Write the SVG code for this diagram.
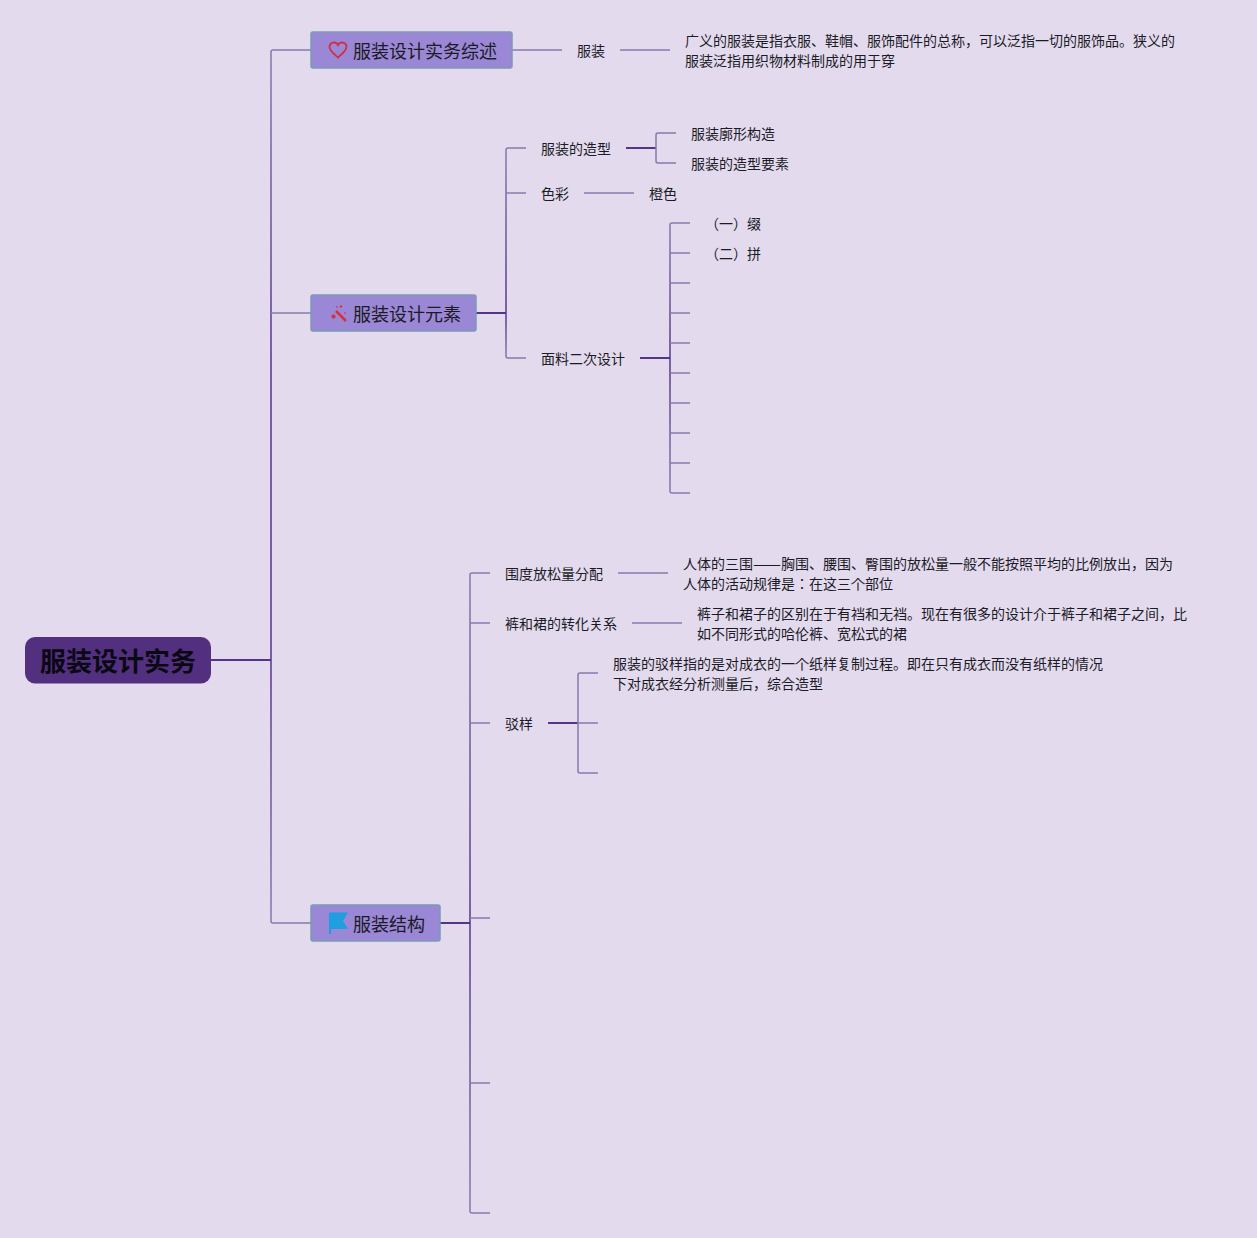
<svg xmlns="http://www.w3.org/2000/svg" width="1257" height="1238" viewBox="0 0 1257 1238">
<style>
text{font-family:"Noto Sans CJK JP","Noto Sans",sans-serif;fill:#1b1b26}
.s{font-size:14px}
.t{font-size:18px}
.r{font-size:26px;font-weight:700;fill:#0a0812}
.box{fill:#9a87d5;stroke:#7a9ab5;stroke-width:1.5}
.c{fill:none;stroke:#8a78ad;stroke-width:1.5}
.d{fill:none;stroke:#55358a;stroke-width:2}
</style>
<defs>
<linearGradient id="g1" gradientUnits="userSpaceOnUse" x1="0" y1="50" x2="0" y2="923"><stop offset="0" stop-color="#8a78ad"/><stop offset=".35" stop-color="#55358a"/><stop offset=".7" stop-color="#55358a"/><stop offset="1" stop-color="#8a78ad"/></linearGradient>
<linearGradient id="g2" gradientUnits="userSpaceOnUse" x1="0" y1="148" x2="0" y2="358"><stop offset="0" stop-color="#8a78ad"/><stop offset=".78" stop-color="#55358a"/><stop offset="1" stop-color="#8a78ad"/></linearGradient>
<linearGradient id="g3" gradientUnits="userSpaceOnUse" x1="0" y1="223" x2="0" y2="493"><stop offset="0" stop-color="#8a78ad"/><stop offset=".5" stop-color="#55358a"/><stop offset="1" stop-color="#8a78ad"/></linearGradient>
<linearGradient id="g4" gradientUnits="userSpaceOnUse" x1="0" y1="573" x2="0" y2="1213"><stop offset="0" stop-color="#8a78ad"/><stop offset=".55" stop-color="#55358a"/><stop offset="1" stop-color="#8a78ad"/></linearGradient>
</defs>
<rect width="1257" height="1238" fill="#e3daee"/>
<g id="connectors">
<path class="d" d="M211 660H271"/>
<path class="c" style="stroke:url(#g1)" d="M311 50H273Q271 50 271 52V921Q271 923 273 923H311"/>
<path class="c" d="M271 313H311"/>
<path class="c" d="M512 50H562M620 50H670"/>
<path class="d" d="M476 313H506"/>
<path class="c" style="stroke:url(#g2)" d="M526 148H508Q506 148 506 150V356Q506 358 508 358H526"/>
<path class="c" d="M506 193H526"/>
<path class="d" d="M626 148H656"/>
<path class="c" d="M676 133H658Q656 133 656 135V161Q656 163 658 163H676"/>
<path class="c" d="M584 193H634"/>
<path class="d" d="M640 358H670"/>
<path class="c" style="stroke:url(#g3)" d="M690 223H672Q670 223 670 225V491Q670 493 672 493H690"/>
<path class="c" d="M670 253H690M670 283H690M670 313H690M670 343H690M670 373H690M670 403H690M670 433H690M670 463H690"/>
<path class="d" d="M440 923H470"/>
<path class="c" style="stroke:url(#g4)" d="M490 573H472Q470 573 470 575V1211Q470 1213 472 1213H490"/>
<path class="c" d="M470 623H490M470 723H490M470 918H490M470 1083H490"/>
<path class="c" d="M618 573H668M632 623H682"/>
<path class="d" d="M548 723H578"/>
<path class="c" d="M598 673H580Q578 673 578 675V771Q578 773 580 773H598M578 723H598"/>
</g>
<g id="root"><rect x="25" y="637" width="186" height="46.500" rx="10" fill="#52307f"/><text class="r" x="40" y="671">服装设计实务</text></g>
<g id="topic1"><rect class="box" x="311" y="32" width="201" height="36" rx="2"/>
<path d="M338 57.500C333 53 329.500 50.500 329.500 47A4.500 4.500 0 0 1 338 45A4.500 4.500 0 0 1 346.500 47C346.500 50.500 343 53 338 57.500Z" fill="none" stroke="#d03040" stroke-width="1.800"/>
<text class="t" x="353" y="58">服装设计实务综述</text></g>
<g id="topic2"><rect class="box" x="311" y="295" width="165" height="36" rx="2"/>
<path d="M336 311L346 321" stroke="#d6303c" stroke-width="2.500" fill="none"/><path d="M331 316l3 -2 2 3 -3 2zM341 305l1.500 1.500 -1.500 1.500 -1.500 -1.500zM345 312l1 1 -1 1 -1 -1zM337 306l1 1 -1 1 -1 -1z" fill="#d6303c"/>
<text class="t" x="353" y="321">服装设计元素</text></g>
<g id="topic3"><rect class="box" x="311" y="905" width="129" height="36" rx="2"/>
<path d="M329 912.500H348L343 921L348 929H331V934H329Z" fill="#1d9fe0"/>
<text class="t" x="353" y="931">服装结构</text></g>
<g id="n1"><text class="s" x="577" y="56">服装</text></g>
<g id="n2"><text class="s" x="685" y="46">广义的服装是指衣服、鞋帽、服饰配件的总称，可以泛指一切的服饰品。狭义的</text><text class="s" x="685" y="66">服装泛指用织物材料制成的用于穿</text></g>
<g id="n3"><text class="s" x="541" y="154">服装的造型</text></g>
<g id="n4"><text class="s" x="691" y="139">服装廓形构造</text></g>
<g id="n5"><text class="s" x="691" y="169">服装的造型要素</text></g>
<g id="n6"><text class="s" x="541" y="199">色彩</text></g>
<g id="n7"><text class="s" x="649" y="199">橙色</text></g>
<g id="n8"><text class="s" x="705" y="229">（一）缀</text></g>
<g id="n9"><text class="s" x="705" y="259">（二）拼</text></g>
<g id="n10"><text class="s" x="541" y="364">面料二次设计</text></g>
<g id="n11"><text class="s" x="505" y="579">围度放松量分配</text></g>
<g id="n12"><text class="s" x="683" y="569">人体的三围<tspan textLength="28" lengthAdjust="spacingAndGlyphs">——</tspan>胸围、腰围、臀围的放松量一般不能按照平均的比例放出，因为</text><text class="s" x="683" y="589">人体的活动规律是：在这三个部位</text></g>
<g id="n13"><text class="s" x="505" y="629">裤和裙的转化关系</text></g>
<g id="n14"><text class="s" x="697" y="619">裤子和裙子的区别在于有裆和无裆。现在有很多的设计介于裤子和裙子之间，比</text><text class="s" x="697" y="639">如不同形式的哈伦裤、宽松式的裙</text></g>
<g id="n15"><text class="s" x="505" y="729">驳样</text></g>
<g id="n16"><text class="s" x="613" y="669">服装的驳样指的是对成衣的一个纸样复制过程。即在只有成衣而没有纸样的情况</text><text class="s" x="613" y="689">下对成衣经分析测量后，综合造型</text></g>
</svg>
